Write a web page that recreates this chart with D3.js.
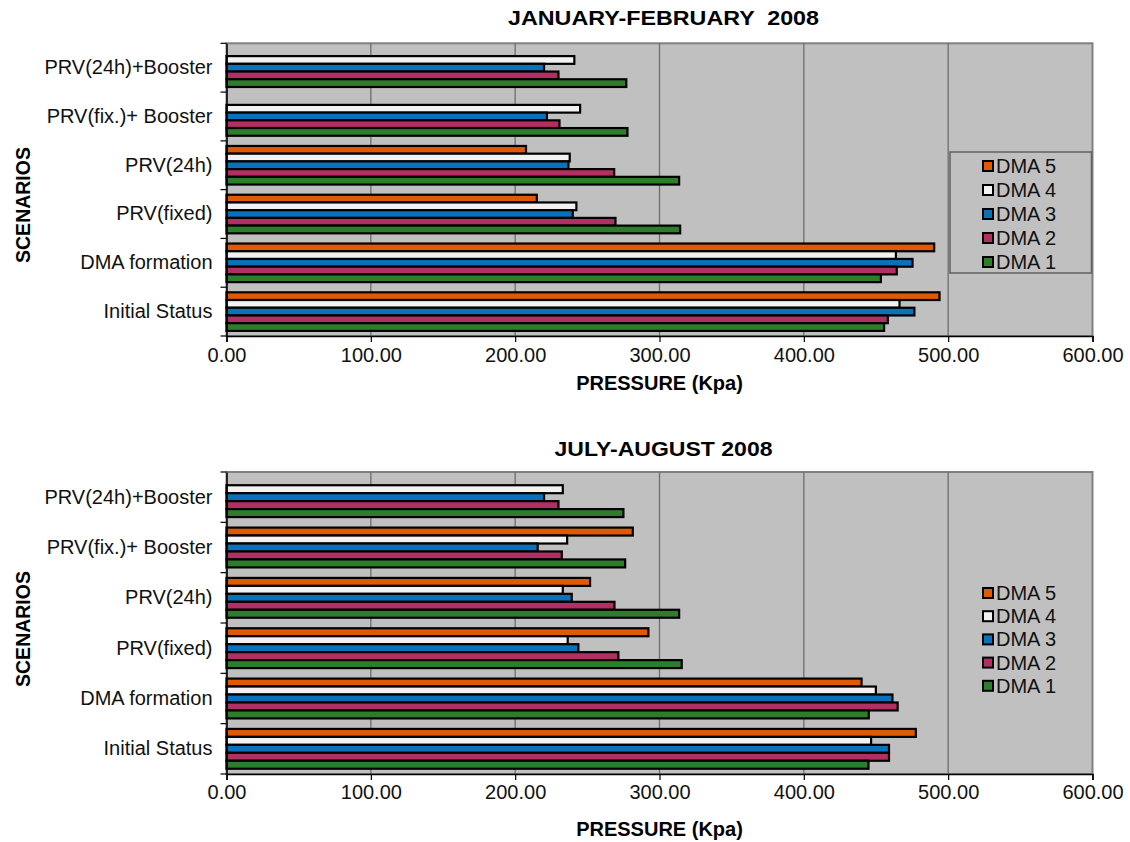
<!DOCTYPE html>
<html>
<head>
<meta charset="utf-8">
<script src="https://cdn.jsdelivr.net/npm/d3@7/dist/d3.min.js"></script>
<style>
  html, body { margin: 0; padding: 0; background: #ffffff; }
  svg { display: block; font-family: "Liberation Sans", Arial, sans-serif; }
  text { white-space: pre; }
</style>
</head>
<body>
<svg id="chart" width="1130" height="842"></svg>
<script>
// Scenarios, listed top to bottom as they appear on the category axis
const scenarios = ["PRV(24h)+Booster", "PRV(fix.)+Booster", "PRV(24h)", "PRV(fixed)", "DMA formation", "Initial Status"];
const scenarioLabels = ["PRV(24h)+Booster", "PRV(fix.)+ Booster", "PRV(24h)", "PRV(fixed)", "DMA formation", "Initial Status"];
const seriesNames = ["DMA 5", "DMA 4", "DMA 3", "DMA 2", "DMA 1"];
const pressureTicks = [0, 100, 200, 300, 400, 500, 600];

// Mean pressure (kPa), January-February 2008 (null = no value)
const janDMA5 = [null, null, 207.5, 215.0, 490.3, 494.0];
const janDMA4 = [241.0, 245.0, 237.8, 242.4, 463.8, 466.3];
const janDMA3 = [220.0, 222.0, 236.9, 239.9, 475.3, 476.6];
const janDMA2 = [230.0, 230.7, 268.6, 269.5, 464.4, 458.2];
const janDMA1 = [277.0, 277.8, 313.6, 314.3, 453.4, 455.6];

// Mean pressure (kPa), July-August 2008
const julDMA5 = [null, 281.5, 251.9, 292.3, 440.0, 477.6];
const julDMA4 = [233.0, 236.0, 233.0, 236.4, 449.9, 446.6];
const julDMA3 = [220.0, 215.6, 239.2, 243.8, 461.4, 459.0];
const julDMA2 = [230.0, 232.3, 268.8, 271.5, 465.0, 459.0];
const julDMA1 = [275.0, 276.2, 313.6, 315.4, 445.0, 444.8];

const seriesColors = ["#e05a06", "#f2f2f2", "#0a72ba", "#b03064", "#2e7d2c"];

const svg = d3.select("#chart");

function drawPanel(opts) {
  const { title, titleWidth, data, top, bottom, titleY, tickPad, axisLabelY, yTitleY, boxedLegend, legendTop, legendStep } = opts;
  const left = 226.5, right = 1092.5;

  const x = d3.scaleLinear().domain([0, 600]).range([left, right]);
  const y = d3.scaleBand().domain(scenarios).range([top, bottom]).paddingInner(0).paddingOuter(0);
  const inner = d3.scaleBand().domain(seriesNames).range([0, y.bandwidth()]).paddingInner(0).paddingOuter(0.66);

  const g = svg.append("g");

  // plot background
  g.append("rect")
    .attr("x", left).attr("y", top)
    .attr("width", right - left).attr("height", bottom - top)
    .attr("fill", "#c0c0c0")
    .attr("stroke", "#808080").attr("stroke-width", 2);

  // vertical gridlines
  g.append("g").selectAll("line")
    .data(pressureTicks.slice(1, -1))
    .join("line")
    .attr("x1", d => x(d)).attr("x2", d => x(d))
    .attr("y1", top).attr("y2", bottom)
    .attr("stroke", "#6e6e6e").attr("stroke-width", 1.3);

  // bars
  const rows = [];
  scenarios.forEach((s, i) => {
    seriesNames.forEach((name, k) => {
      const v = data[k][i];
      if (v != null) rows.push({ s, name, k, v });
    });
  });
  g.append("g").selectAll("rect")
    .data(rows)
    .join("rect")
    .attr("x", x(0))
    .attr("y", d => y(d.s) + inner(d.name))
    .attr("width", d => x(d.v) - x(0))
    .attr("height", inner.bandwidth())
    .attr("fill", d => seriesColors[d.k])
    .attr("stroke", "#000").attr("stroke-width", 2.2);

  // category axis
  const yAxis = d3.axisLeft(y).tickSize(0).tickPadding(14).tickFormat((d, i) => scenarioLabels[i]);
  const ya = g.append("g").attr("transform", `translate(${left},0)`).call(yAxis);
  ya.select(".domain").attr("stroke", "#000").attr("stroke-width", 1.5);
  ya.selectAll("text").attr("font-size", 20).attr("fill", "#111");
  // category separators
  g.append("g").selectAll("line")
    .data(d3.range(scenarios.length + 1))
    .join("line")
    .attr("x1", left - 6).attr("x2", left)
    .attr("y1", i => top + i * y.step()).attr("y2", i => top + i * y.step())
    .attr("stroke", "#000").attr("stroke-width", 1.2);

  // value axis
  const xAxis = d3.axisBottom(x).tickValues(pressureTicks).tickSize(6).tickPadding(tickPad)
    .tickFormat(d3.format(".2f"));
  const xa = g.append("g").attr("transform", `translate(0,${bottom})`).call(xAxis);
  xa.select(".domain").attr("stroke", "#000").attr("stroke-width", 1.5);
  xa.selectAll(".tick line").attr("stroke", "#000").attr("stroke-width", 1.2);
  xa.selectAll("text").attr("font-size", 20).attr("fill", "#111");

  // titles
  g.append("text")
    .attr("x", (left + right) / 2 + 4).attr("y", titleY)
    .attr("text-anchor", "middle").attr("font-weight", "bold").attr("font-size", 20)
    .attr("textLength", titleWidth).attr("lengthAdjust", "spacingAndGlyphs")
    .text(title);
  g.append("text")
    .attr("x", (left + right) / 2).attr("y", axisLabelY)
    .attr("text-anchor", "middle").attr("font-weight", "bold").attr("font-size", 20)
    .text("PRESSURE (Kpa)");
  g.append("text")
    .attr("transform", `translate(30,${yTitleY}) rotate(-90)`)
    .attr("text-anchor", "middle").attr("font-weight", "bold").attr("font-size", 19.5)
    .text("SCENARIOS");

  // legend
  const lg = g.append("g");
  if (boxedLegend) {
    lg.append("rect")
      .attr("x", 950).attr("y", legendTop - 14)
      .attr("width", 141.5).attr("height", 121)
      .attr("fill", "#c0c0c0").attr("stroke", "#606060").attr("stroke-width", 1.5);
  }
  seriesNames.forEach((name, k) => {
    const cy = legendTop + k * legendStep;
    lg.append("rect")
      .attr("x", 983).attr("y", cy - 5)
      .attr("width", 10).attr("height", 10)
      .attr("fill", seriesColors[k]).attr("stroke", "#000").attr("stroke-width", 2);
    lg.append("text")
      .attr("x", 996).attr("y", cy + 7)
      .attr("font-size", 20).attr("fill", "#111")
      .text(name);
  });
}

drawPanel({
  title: "JANUARY-FEBRUARY  2008", titleWidth: 311,
  data: [janDMA5, janDMA4, janDMA3, janDMA2, janDMA1],
  top: 43.3, bottom: 336,
  titleY: 25, tickPad: 6, axisLabelY: 390, yTitleY: 205,
  boxedLegend: true, legendTop: 166, legendStep: 24
});

drawPanel({
  title: "JULY-AUGUST 2008", titleWidth: 218,
  data: [julDMA5, julDMA4, julDMA3, julDMA2, julDMA1],
  top: 472, bottom: 774,
  titleY: 456, tickPad: 5, axisLabelY: 836, yTitleY: 629,
  boxedLegend: false, legendTop: 593, legendStep: 23.2
});
</script>
</body>
</html>
